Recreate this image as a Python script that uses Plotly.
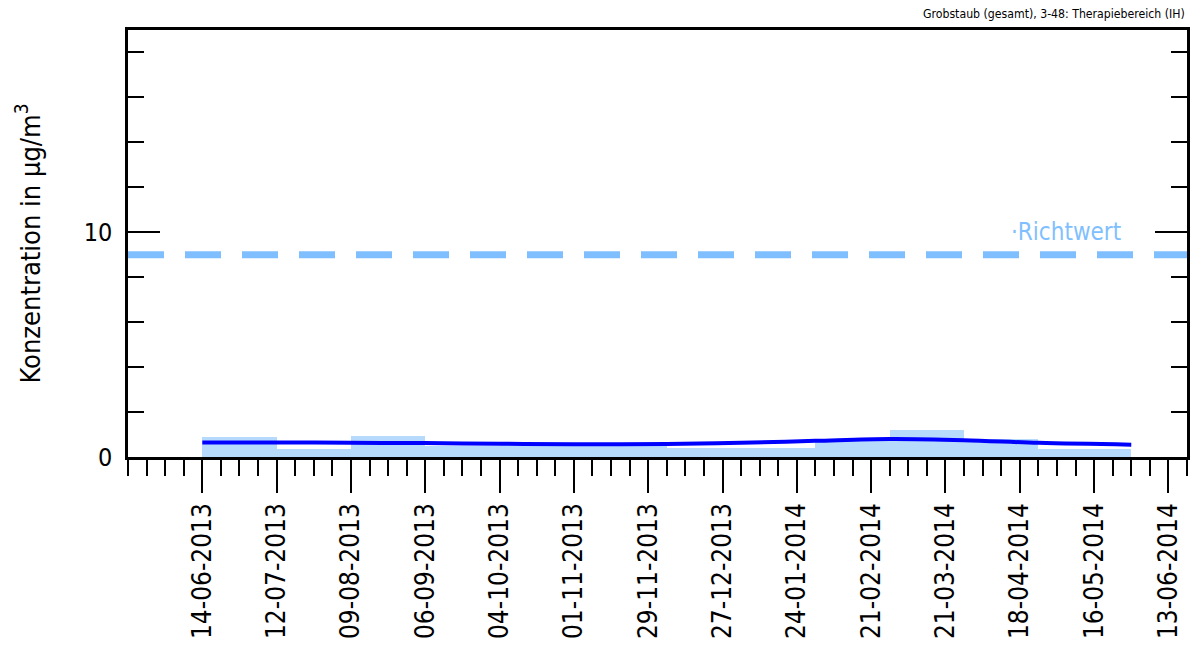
import plotly.graph_objects as go
import pandas as pd

# Four-/five-week sampling periods (start dates) and the period end
period_start = ["2013-06-14", "2013-07-12", "2013-08-09", "2013-09-06", "2013-10-04",
                "2013-11-01", "2013-12-06", "2014-01-03", "2014-01-31", "2014-02-28",
                "2014-03-28", "2014-04-25"]
period_end = "2014-05-30"
period_values = [0.90, 0.37, 0.95, 0.47, 0.52, 0.50, 0.42, 0.38, 0.75, 1.20, 0.80, 0.36]

# Smoothed trend through the period boundaries
trend_dates = period_start + [period_end]
trend_values = [0.65, 0.65, 0.63, 0.62, 0.59, 0.57, 0.58, 0.63, 0.72, 0.80, 0.75, 0.63, 0.55]

guide_value = 9.0
guide_label = "Richtwert"

tick_dates = ["2013-06-14", "2013-07-12", "2013-08-09", "2013-09-06",
              "2013-10-04", "2013-11-01", "2013-11-29", "2013-12-27", "2014-01-24",
              "2014-02-21", "2014-03-21", "2014-04-18", "2014-05-16", "2014-06-13"]
tick_labels = [pd.Timestamp(d).strftime("%d-%m-%Y") for d in tick_dates]

FONT = "Liberation Sans Narrow, DejaVu Sans Condensed, Arial Narrow, sans-serif"
BAR_COLOR = "#b5dafc"
LINE_COLOR = "#0000ff"
GUIDE_COLOR = "#80bfff"
DAY_MS = 86400000

starts = pd.to_datetime(period_start)
ends = list(starts[1:]) + [pd.Timestamp(period_end)]
widths = [(e - s).days * DAY_MS for s, e in zip(starts, ends)]

fig = go.Figure()

fig.add_trace(go.Bar(
    x=period_start, y=period_values, width=widths, offset=0,
    marker=dict(color=BAR_COLOR, line=dict(width=0)),
    hoverinfo="skip", showlegend=False,
))

fig.add_trace(go.Scatter(
    x=trend_dates, y=trend_values, mode="lines",
    line=dict(color=LINE_COLOR, width=4, shape="spline", smoothing=1.0),
    hoverinfo="skip", showlegend=False,
))

x_start = "2013-05-17"
x_end = "2014-06-20"

fig.add_trace(go.Scatter(
    x=[x_start, x_end], y=[guide_value, guide_value], mode="lines",
    line=dict(color=GUIDE_COLOR, width=7, dash="36px,21px"),
    hoverinfo="skip", showlegend=False, cliponaxis=False,
))

# long (major-length) tick at the start of the time axis
fig.add_shape(
    type="line", xref="x", yref="y", x0=x_start, x1=x_start,
    ysizemode="pixel", yanchor=0, y0=0, y1=-33,
    line=dict(color="black", width=2),
)

fig.add_annotation(
    x="2014-04-14", y=10, xref="x", yref="y", text="·" + guide_label,
    showarrow=False, xanchor="left", yanchor="middle",
    font=dict(family=FONT, size=24, color=GUIDE_COLOR),
)

fig.add_annotation(
    x=1, y=1, xref="paper", yref="paper", yshift=7,
    text="Grobstaub (gesamt), 3-48: Therapiebereich (IH)",
    showarrow=False, xanchor="right", yanchor="bottom", xshift=0,
    font=dict(family=FONT, size=12.2, color="#000000"),
)

fig.update_layout(
    width=1196, height=652,
    margin=dict(l=128, r=6, t=30, b=195, pad=0),
    paper_bgcolor="white", plot_bgcolor="white",
    font=dict(family=FONT, color="#000000"),
    bargap=0,
    xaxis=dict(
        type="date", range=[x_start, x_end],
        tickmode="array", tickvals=tick_dates, ticktext=tick_labels,
        tickangle=-90, tickfont=dict(family=FONT, size=26),
        ticks="outside", ticklen=33, tickwidth=2, tickcolor="black",
        showline=True, linecolor="black", linewidth=2.5, mirror=True,
        showgrid=False, zeroline=False,
        minor=dict(tickmode="linear", tick0=x_start, dtick=7 * DAY_MS,
                   ticks="outside", ticklen=16, tickwidth=2, tickcolor="black",
                   showgrid=False),
    ),
    yaxis=dict(
        range=[0, 19], tickmode="array", tickvals=[0, 10], ticktext=["0", "10"],
        tickfont=dict(family=FONT, size=25), ticklabelstandoff=8,
        ticks="inside", ticklen=32, tickwidth=2, tickcolor="black",
        showline=True, linecolor="black", linewidth=2.5, mirror="allticks",
        showgrid=False, zeroline=False,
        minor=dict(tickmode="linear", tick0=0, dtick=2, ticks="inside",
                   ticklen=16, tickwidth=2, tickcolor="black", showgrid=False),
        title=dict(text="Konzentration in µg/m<sup>3</sup>",
                   font=dict(family=FONT, size=27), standoff=36),
    ),
)

fig.write_html("out.html")
